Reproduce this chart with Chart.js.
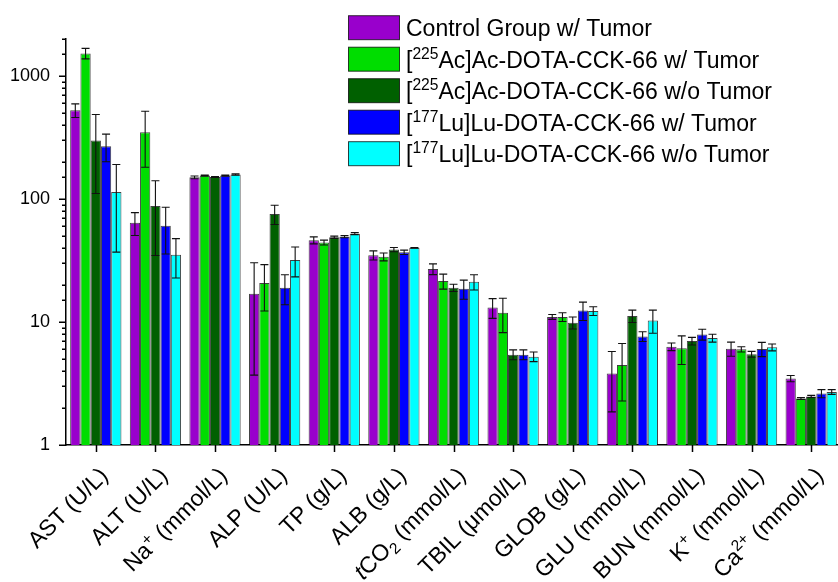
<!DOCTYPE html>
<html>
<head>
<meta charset="utf-8">
<script src="https://cdn.jsdelivr.net/npm/chart.js@4/dist/chart.umd.min.js"></script>
<style>
  html, body { margin: 0; padding: 0; background: #fff; overflow: hidden; }
  #wrap { width: 841px; height: 582px; }
</style>
</head>
<body>
<div id="wrap"><canvas id="myChart"></canvas></div>
<script>
// ^{..} superscript, _{..} subscript, *..* italic
var categories = ['AST (U/L)', 'ALT (U/L)', 'Na^{+} (mmol/L)', 'ALP (U/L)', 'TP (g/L)', 'ALB (g/L)',
  '*t*CO_{2} (mmol/L)', 'TBIL (μmol/L)', 'GLOB (g/L)', 'GLU (mmol/L)', 'BUN (mmol/L)',
  'K^{+} (mmol/L)', 'Ca^{2+} (mmol/L)'];

var seriesNames = ['Control Group w/ Tumor', '[^{225}Ac]Ac-DOTA-CCK-66 w/ Tumor',
  '[^{225}Ac]Ac-DOTA-CCK-66 w/o Tumor', '[^{177}Lu]Lu-DOTA-CCK-66 w/ Tumor',
  '[^{177}Lu]Lu-DOTA-CCK-66 w/o Tumor'];

var controlMean = [527, 64, 150, 17, 46.2, 34.9, 27.0, 13.1, 11.0, 3.81, 6.30, 6.06, 3.47];
var controlSd   = [67, 13.5, 4, 13.3, 3, 3, 2.7, 2.4, 0.5, 1.95, 0.45, 0.8, 0.2];

var acTumorMean = [1528, 349, 155, 20.8, 44.3, 33.9, 21.5, 11.9, 11.0, 4.48, 6.11, 6.0, 2.39];
var acTumorSd   = [150, 168, 1.5, 8.5, 2, 2.5, 3, 3.7, 0.9, 2.2, 1.6, 0.3, 0.04];

var acNoTumorMean = [299, 87.7, 151, 75.5, 48.9, 38.8, 19.0, 5.43, 9.87, 11.2, 7.0, 5.47, 2.48];
var acNoTumorSd   = [188, 53, 1.5, 13.5, 1, 1.5, 1.3, 0.5, 1.1, 1.3, 0.5, 0.3, 0.05];

var luTumorMean = [269, 60.7, 155, 19.0, 49.4, 36.9, 18.6, 5.43, 12.4, 7.64, 7.93, 6.03, 2.62];
var luTumorSd   = [68, 25, 1.5, 5.2, 1, 1.5, 3.3, 0.5, 2.1, 0.7, 0.8, 0.8, 0.2];

var luNoTumorMean = [114, 35.2, 158, 32.0, 52.3, 40.1, 21.2, 5.23, 12.3, 10.3, 7.41, 6.22, 2.70];
var luNoTumorSd   = [77, 12.4, 2, 8.7, 1, 0.3, 3, 0.47, 1.0, 2.2, 0.55, 0.4, 0.12];

var colors = ['#9900cc', '#00dd00', '#006000', '#0000ff', '#00ffff'];
var FONT = '"Liberation Sans", Arial, sans-serif';

function parseRich(s) {
  var re = /\^\{([^}]*)\}|_\{([^}]*)\}|\*([^*]*)\*|([^\^_*]+)/g, m, out = [];
  while ((m = re.exec(s)) !== null) {
    if (m[1] !== undefined) out.push({ t: m[1], mode: 'sup' });
    else if (m[2] !== undefined) out.push({ t: m[2], mode: 'sub' });
    else if (m[3] !== undefined) out.push({ t: m[3], mode: 'it' });
    else out.push({ t: m[4], mode: '' });
  }
  return out;
}
function plain(s) {
  return parseRich(s).map(function (p) { return p.t; }).join('');
}
function segFont(p, size) {
  var sz = (p.mode === 'sup' || p.mode === 'sub') ? size * 0.68 : size;
  return (p.mode === 'it' ? 'italic ' : '') + sz + 'px ' + FONT;
}
// draws at baseline y; align 'left' or 'right'
function drawRich(ctx, s, x, y, size, align) {
  var parts = parseRich(s), total = 0;
  parts.forEach(function (p) { ctx.font = segFont(p, size); p.w = ctx.measureText(p.t).width; total += p.w; });
  var cx = align === 'right' ? x - total : x;
  ctx.textAlign = 'left';
  ctx.textBaseline = 'alphabetic';
  parts.forEach(function (p) {
    ctx.font = segFont(p, size);
    var dy = p.mode === 'sup' ? -size * 0.38 : (p.mode === 'sub' ? size * 0.2 : 0);
    ctx.fillText(p.t, cx, y + dy);
    cx += p.w;
  });
}

var means = [controlMean, acTumorMean, acNoTumorMean, luTumorMean, luNoTumorMean];
var sds = [controlSd, acTumorSd, acNoTumorSd, luTumorSd, luNoTumorSd];

var datasets = seriesNames.map(function (name, i) {
  return {
    label: plain(name),
    richLabel: name,
    data: means[i],
    sd: sds[i],
    backgroundColor: colors[i],
    borderColor: 'rgba(0,0,0,0.75)',
    borderWidth: 1,
    barPercentage: 1.0,
    categoryPercentage: 0.86
  };
});

function isDecade(v) {
  var l = Math.log10(v);
  return Math.abs(l - Math.round(l)) < 1e-6;
}

var errorBars = {
  id: 'errorBars',
  afterDatasetsDraw: function (chart) {
    var ctx = chart.ctx, y = chart.scales.y;
    ctx.save();
    ctx.strokeStyle = '#111';
    ctx.lineWidth = 1.1;
    chart.data.datasets.forEach(function (ds, di) {
      chart.getDatasetMeta(di).data.forEach(function (bar, i) {
        var m = ds.data[i], s = ds.sd[i];
        var yt = y.getPixelForValue(m + s), yb = y.getPixelForValue(m - s);
        ctx.beginPath();
        ctx.moveTo(bar.x, yt); ctx.lineTo(bar.x, yb);
        ctx.moveTo(bar.x - 4, yt); ctx.lineTo(bar.x + 4, yt);
        ctx.moveTo(bar.x - 4, yb); ctx.lineTo(bar.x + 4, yb);
        ctx.stroke();
      });
    });
    ctx.restore();
  }
};

var axisDecor = {
  id: 'axisDecor',
  afterDraw: function (chart) {
    var ctx = chart.ctx, xs = chart.scales.x, ys = chart.scales.y, area = chart.chartArea;
    ctx.save();
    ctx.strokeStyle = '#000';
    ctx.lineWidth = 1.5;
    ctx.beginPath();
    ys.ticks.forEach(function (t) {
      var py = Math.round(ys.getPixelForValue(t.value)) + 0.25;
      var len = isDecade(t.value) ? 7 : 4;
      ctx.moveTo(area.left - len, py); ctx.lineTo(area.left, py);
    });
    categories.forEach(function (c, i) {
      var px = Math.round(xs.getPixelForValue(i)) + 0.5;
      ctx.moveTo(px, area.bottom); ctx.lineTo(px, area.bottom + 7);
    });
    ctx.stroke();

    // rotated category labels
    ctx.fillStyle = '#000';
    categories.forEach(function (c, i) {
      var px = xs.getPixelForValue(i);
      ctx.save();
      ctx.translate(px + 8.5, area.bottom + 27);
      ctx.rotate(-Math.PI / 4);
      drawRich(ctx, c, 0, 7, 23, 'right');
      ctx.restore();
    });

    // legend
    chart.data.datasets.forEach(function (ds, i) {
      var top = 15.7 + 31.5 * i;
      ctx.fillStyle = ds.backgroundColor;
      ctx.fillRect(348.5, top, 51, 24);
      ctx.lineWidth = 1;
      ctx.strokeStyle = 'rgba(0,0,0,0.75)';
      ctx.strokeRect(348.5, top, 51, 24);
      ctx.fillStyle = '#000';
      drawRich(ctx, ds.richLabel, 406, top + 20.3, 23, 'left');
    });
    ctx.restore();
  }
};

var chart = new Chart(document.getElementById('myChart'), {
  type: 'bar',
  data: {
    labels: categories.map(plain),
    datasets: datasets
  },
  options: {
    responsive: true,
    maintainAspectRatio: false,
    animation: false,
    layout: { padding: { top: 39, right: 0, bottom: 0, left: 0 } },
    plugins: {
      legend: { display: false },
      tooltip: { enabled: false }
    },
    scales: {
      x: {
        type: 'category',
        offset: true,
        grid: { display: false },
        border: { display: true, color: '#000', width: 1.5 },
        ticks: { display: false },
        afterFit: function (scale) { scale.height = 137; }
      },
      y: {
        type: 'logarithmic',
        min: 1,
        max: 2000,
        grid: { display: false, drawTicks: false },
        border: { display: true, color: '#000', width: 1.5 },
        ticks: {
          autoSkip: false,
          padding: 16,
          color: '#000',
          font: { family: FONT, size: 18 },
          callback: function (v) { return isDecade(v) ? String(Math.round(v)) : ''; }
        },
        afterFit: function (scale) { scale.width = 66; }
      }
    }
  },
  plugins: [errorBars, axisDecor]
});
</script>
</body>
</html>
